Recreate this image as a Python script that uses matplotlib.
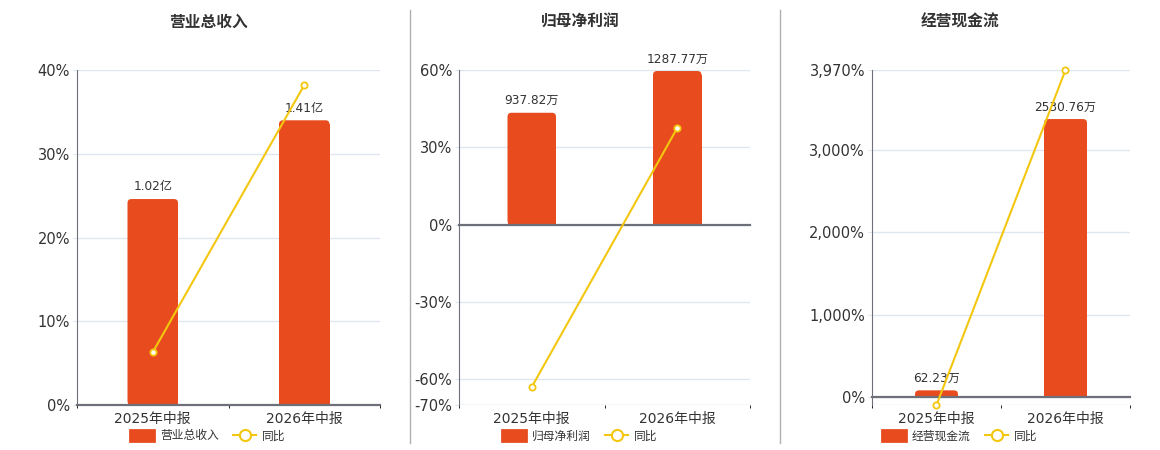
import matplotlib
matplotlib.use("Agg")
import matplotlib.pyplot as plt
from matplotlib.patches import FancyBboxPatch, Patch
from matplotlib.lines import Line2D

plt.rcParams['font.family'] = ['DejaVu Sans', 'Noto Sans CJK SC']

# données
categories = ["2025年中报", "2026年中报"]
titles = ["营业总收入", "归母净利润", "经营现金流"]
units = ["亿", "万", "万"]
revenue = [1.02, 1.41]
net_profit = [937.82, 1287.77]
cash_flow = [62.23, 2530.76]
revenue_yoy = [6.3, 38.2]
net_profit_yoy = [-63.0, 37.5]
cash_flow_yoy = [-94.0, 3970.0]
revenue_ticks = [0, 10, 20, 30, 40]
net_profit_ticks = [-70, -60, -30, 0, 30, 60]
cash_flow_ticks = [0, 1000, 2000, 3000, 3970]

BAR = "#E84C1E"
LINE = "#F3C70F"
GRID = "#E0E6F1"
AXIS = "#6E7079"
TXT = "#333333"

W, H = 1160, 450
fig = plt.figure(figsize=(W / 100, H / 100), dpi=100)

# zone en px, limites en %, haut de l'axe des barres, centre de la section
panels = [
    dict(vals=revenue, yoy=revenue_yoy, ticks=revenue_ticks, lim=(0, 40),
         bar_top=1.659, box=(77, 380), cx=208, comma=False),
    dict(vals=net_profit, yoy=net_profit_yoy, ticks=net_profit_ticks, lim=(-70, 60),
         bar_top=1296.4, box=(459, 750), cx=580, comma=False),
    dict(vals=cash_flow, yoy=cash_flow_yoy, ticks=cash_flow_ticks, lim=(-95, 3970),
         bar_top=2977.0, box=(872, 1130), cx=960, comma=True),
]

top_px, bot_px = 70, 405
x = list(range(len(categories)))
bw = 1 / 3

for i, p in enumerate(panels):
    l, r = p["box"]
    rect = [l / W, 1 - bot_px / H, (r - l) / W, (bot_px - top_px) / H]
    ax = fig.add_axes(rect)
    axb = ax.twinx()
    axl = ax.twinx()
    lo, hi = p["lim"]
    blo = lo / hi * p["bar_top"]
    bhi = p["bar_top"]

    # axe des pourcentages (fond, grille)
    ax.set_xlim(-0.5, 1.5)
    ax.set_ylim(lo, hi)
    ax.set_yticks(p["ticks"])
    if p["comma"]:
        ax.set_yticklabels([f"{t:,.0f}%" for t in p["ticks"]])
    else:
        ax.set_yticklabels([f"{t:.0f}%" for t in p["ticks"]])
    ax.grid(axis="y", color=GRID, lw=1)
    ax.axhline(lo, color=GRID, lw=1)
    ax.set_axisbelow(True)
    ax.tick_params(axis="y", length=3, color=GRID, labelsize=10.5, labelcolor=TXT, pad=2)
    ax.set_xticks([])
    for s in ["top", "right", "bottom"]:
        ax.spines[s].set_visible(False)
    ax.spines["left"].set_color(AXIS)

    # barres
    axb.set_ylim(blo, bhi)
    axb.set_xlim(-0.5, 1.5)
    axb.set_yticks([])
    bars = axb.bar(x, p["vals"], width=bw, color=BAR, lw=0)
    xpp = 2 / (r - l)
    ypp = (bhi - blo) / (bot_px - top_px)
    rad = 4
    for b in bars:
        bx, by, bwid, bh = b.get_x(), b.get_y(), b.get_width(), b.get_height()
        ry = min(rad * ypp, bh / 2)
        b.set_height(bh - ry)
        fb = FancyBboxPatch((bx, by), bwid, bh,
                            boxstyle=f"round,pad=0,rounding_size={min(rad * xpp, bwid / 2)}",
                            mutation_aspect=ypp / xpp, fc=BAR, ec="none", lw=0)
        axb.add_patch(fb)
    for xi, v in zip(x, p["vals"]):
        axb.annotate(f"{v:g}{units[i]}", (xi, v), xytext=(0, 4), textcoords="offset points",
                     ha="center", va="bottom", fontsize=8.7, color=TXT)
    for s in ["top", "right", "left"]:
        axb.spines[s].set_visible(False)
    axb.spines["bottom"].set_position(("data", 0))
    axb.spines["bottom"].set_color(AXIS)
    axb.spines["bottom"].set_linewidth(1.6)
    axb.set_xticks(x)
    axb.set_xticklabels([])
    axb.tick_params(axis="x", which="major", length=0)
    axb.set_xticks([-0.5, 0.5, 1.5], minor=True)
    axb.tick_params(axis="x", which="minor", length=5, color=AXIS, width=1)
    for xi, c in zip(x, categories):
        axb.annotate(c, (xi, 0), xycoords=("data", "axes fraction"), xytext=(0, -5),
                     textcoords="offset points", ha="center", va="top", fontsize=10, color=TXT)

    # ligne du ratio
    axl.set_ylim(lo, hi)
    axl.set_xlim(-0.5, 1.5)
    axl.set_yticks([])
    axl.set_xticks([])
    for s in axl.spines.values():
        s.set_visible(False)
    axl.plot(x, p["yoy"], color=LINE, lw=1.5, marker="o", ms=4.5, mfc="white",
             mec=LINE, mew=1.3, clip_on=False)

    fig.text(p["cx"] / W, 1 - 22 / H, titles[i], ha="center", va="center",
             fontsize=11.3, fontweight="bold", color=TXT, family=['Noto Sans CJK SC'])

    handles = [Patch(fc=BAR, ec=BAR, lw=2, joinstyle="round", label=titles[i]),
               Line2D([], [], color=LINE, lw=1.5, marker="o", ms=8, mfc="white",
                      mec=LINE, mew=1.5, label="同比")]
    fig.legend(handles=handles, loc="center", bbox_to_anchor=(p["cx"] / W, 1 - 436 / H),
               ncol=2, frameon=False, fontsize=8.5, handlelength=2.0, handleheight=1.0,
               handletextpad=0.5, columnspacing=1.2, labelcolor=TXT)

# séparateurs
for sx in [410, 780]:
    fig.add_artist(Line2D([sx / W, sx / W], [1 - 10 / H, 1 - 443 / H], color="#B0B0B0", lw=1))

fig.savefig("out.png", dpi=100)
